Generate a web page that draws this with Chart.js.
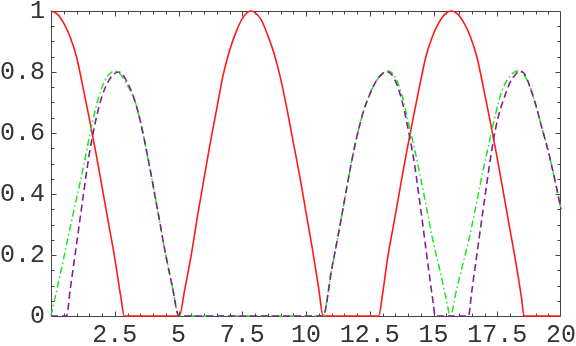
<!DOCTYPE html>
<html>
<head>
<meta charset="utf-8">
<script src="https://cdn.jsdelivr.net/npm/chart.js@4/dist/chart.umd.min.js"></script>
<style>
  html, body { margin: 0; padding: 0; background: #fff; }
  #wrap { width: 576px; height: 346px; }
</style>
</head>
<body>
<div id="wrap"><canvas id="chart"></canvas></div>
<script>
// Curves as [x, y] pairs
const redCurve = [
  [0, 1], [0.25, 0.99], [0.5, 0.96], [0.75, 0.915], [1, 0.85], [1.25, 0.752], [1.5, 0.648],
  [1.75, 0.54], [2, 0.424], [2.25, 0.306], [2.5, 0.19], [2.75, 0.056], [2.87, 0],
  [5.03, 0], [5.25, 0.09], [5.5, 0.2], [5.75, 0.33], [6, 0.45], [6.25, 0.57], [6.5, 0.68],
  [6.75, 0.79], [7, 0.87], [7.25, 0.93], [7.5, 0.975], [7.84, 1], [8, 0.995], [8.25, 0.97],
  [8.5, 0.92], [8.75, 0.86], [9, 0.78], [9.25, 0.68], [9.5, 0.57], [9.75, 0.46], [10, 0.34],
  [10.25, 0.22], [10.5, 0.09], [10.67, 0],
  [12.85, 0], [13, 0.07], [13.2, 0.19], [13.45, 0.306], [13.7, 0.424], [13.95, 0.54],
  [14.2, 0.648], [14.45, 0.752], [14.7, 0.85], [14.95, 0.915], [15.2, 0.96], [15.45, 0.99],
  [15.7, 1], [15.95, 0.99], [16.2, 0.96], [16.45, 0.915], [16.7, 0.85], [16.95, 0.752],
  [17.2, 0.648], [17.45, 0.54], [17.7, 0.424], [17.95, 0.306], [18.2, 0.19], [18.45, 0.06],
  [18.55, 0], [20, 0]
];

const greenCurve = [
  [0, 0], [0.25, 0.095], [0.5, 0.19], [0.75, 0.29], [1, 0.385], [1.25, 0.48], [1.5, 0.585],
  [1.75, 0.68], [2, 0.75], [2.25, 0.79], [2.5, 0.803], [2.75, 0.79], [3, 0.755], [3.25, 0.715],
  [3.5, 0.64], [3.75, 0.54], [4, 0.43], [4.25, 0.315], [4.5, 0.2], [4.75, 0.1], [5.02, 0],
  [10.67, 0], [11, 0.15], [11.25, 0.26], [11.5, 0.375], [11.75, 0.49], [12, 0.59], [12.25, 0.67],
  [12.5, 0.727], [12.75, 0.77], [13, 0.795], [13.2, 0.803], [13.45, 0.79], [13.75, 0.728],
  [14, 0.64], [14.25, 0.55], [14.5, 0.45], [14.75, 0.345], [15, 0.238], [15.25, 0.15],
  [15.5, 0.055], [15.66, 0], [15.9, 0.085], [16.15, 0.17], [16.4, 0.255], [16.65, 0.355],
  [16.9, 0.46], [17.15, 0.555], [17.4, 0.65], [17.65, 0.73], [17.9, 0.775], [18.1, 0.795],
  [18.33, 0.804], [18.55, 0.79], [18.78, 0.752], [19, 0.695], [19.24, 0.62], [19.5, 0.54],
  [19.75, 0.45], [20, 0.35]
];

const purpleCurve = [
  [0, 0], [0.61, 0], [0.75, 0.085], [1, 0.235], [1.25, 0.385], [1.5, 0.53], [1.75, 0.64],
  [2, 0.72], [2.25, 0.77], [2.5, 0.795], [2.65, 0.8], [2.75, 0.797], [3, 0.765], [3.25, 0.715],
  [3.5, 0.64], [3.75, 0.54], [4, 0.43], [4.25, 0.315], [4.5, 0.2], [4.75, 0.1], [5.02, 0],
  [10.67, 0], [11, 0.15], [11.25, 0.26], [11.5, 0.375], [11.75, 0.49], [12, 0.59], [12.25, 0.67],
  [12.5, 0.727], [12.75, 0.77], [13, 0.795], [13.2, 0.8], [13.45, 0.78], [13.75, 0.71],
  [14, 0.615], [14.25, 0.5], [14.5, 0.35], [14.75, 0.19], [15, 0.035], [15.06, 0],
  [16.37, 0], [16.5, 0.08], [16.75, 0.232], [17, 0.38], [17.25, 0.525], [17.5, 0.64],
  [17.75, 0.71], [18, 0.765], [18.25, 0.795], [18.4, 0.803], [18.6, 0.79], [18.78, 0.752],
  [19, 0.695], [19.24, 0.62], [19.5, 0.54], [19.75, 0.45], [20, 0.35]
];

const xTickValues = [2.5, 5, 7.5, 10, 12.5, 15, 17.5, 20];
const yTickValues = [0, 0.2, 0.4, 0.6, 0.8, 1];

const toPoints = arr => arr.map(p => ({ x: p[0], y: p[1] }));

// Mathematica-style frame with inward major/minor ticks, drawn under the curves
const frameTicks = {
  id: 'frameTicks',
  beforeDatasetsDraw(chart) {
    const { ctx, chartArea: a, scales: { x, y } } = chart;
    const L = Math.round(a.left) + 0.5, R = Math.round(a.right) - 0.5;
    const T = Math.round(a.top) + 0.5, B = Math.round(a.bottom) + 0.5;
    ctx.save();
    ctx.strokeStyle = '#444';
    ctx.lineWidth = 1;
    ctx.beginPath();
    ctx.rect(L, T, R - L, B - T);
    ctx.stroke();

    ctx.beginPath();
    for (let i = 1; i < 40; i++) {
      const v = i * 0.5;
      const px = Math.round(x.getPixelForValue(v)) + 0.5;
      const len = (i % 5 === 0) ? 5 : 3;
      ctx.moveTo(px, B); ctx.lineTo(px, B - len);
      ctx.moveTo(px, T); ctx.lineTo(px, T + len);
    }
    for (let i = 1; i < 20; i++) {
      const v = i * 0.05;
      const py = Math.round(y.getPixelForValue(v)) + 0.5;
      const len = (i % 4 === 0) ? 5 : 3;
      ctx.moveTo(L, py); ctx.lineTo(L + len, py);
      ctx.moveTo(R, py); ctx.lineTo(R - len, py);
    }
    ctx.stroke();
    ctx.restore();
  }
};

const tickFont = { family: "'Liberation Mono', 'DejaVu Sans Mono', monospace", size: 25, lineHeight: 0.8 };

new Chart(document.getElementById('chart'), {
  type: 'line',
  data: {
    datasets: [
      {
        label: 'purple',
        data: toPoints(purpleCurve),
        borderColor: '#80208f',
        borderWidth: 1.6,
        borderDash: [7, 4],
        clip: 4,
        order: 0
      },
      {
        label: 'green',
        data: toPoints(greenCurve),
        borderColor: '#1ee61e',
        borderWidth: 1.5,
        borderDash: [7, 3, 1.5, 3],
        clip: 4,
        order: 1
      },
      {
        label: 'red',
        data: toPoints(redCurve),
        borderColor: '#ff1a1a',
        borderWidth: 1.6,
        clip: 4,
        order: 2
      }
    ]
  },
  options: {
    responsive: true,
    maintainAspectRatio: false,
    animation: false,
    layout: { padding: { top: 11, right: 15, left: 0, bottom: 0 } },
    elements: {
      point: { radius: 0 },
      line: { cubicInterpolationMode: 'monotone', fill: false }
    },
    plugins: {
      legend: { display: false },
      tooltip: { enabled: false }
    },
    scales: {
      x: {
        type: 'linear',
        min: 0,
        max: 20,
        grid: { display: false, drawTicks: false, tickLength: 0 },
        border: { display: false },
        afterBuildTicks: s => { s.ticks = xTickValues.map(v => ({ value: v })); },
        afterFit: s => { s.height = 30; s.paddingLeft = 0; s.paddingRight = 0; },
        ticks: {
          font: tickFont,
          color: '#333',
          padding: 9,
          maxRotation: 0,
          autoSkip: false,
          callback: v => String(v)
        }
      },
      y: {
        min: 0,
        max: 1,
        grid: { display: false, drawTicks: false, tickLength: 0 },
        border: { display: false },
        afterBuildTicks: s => { s.ticks = yTickValues.map(v => ({ value: v })); },
        afterFit: s => { s.width = 51; s.paddingTop = 0; s.paddingBottom = 0; },
        ticks: {
          font: tickFont,
          color: '#333',
          padding: 6,
          autoSkip: false,
          callback: v => String(v)
        }
      }
    }
  },
  plugins: [frameTicks]
});
</script>
</body>
</html>
